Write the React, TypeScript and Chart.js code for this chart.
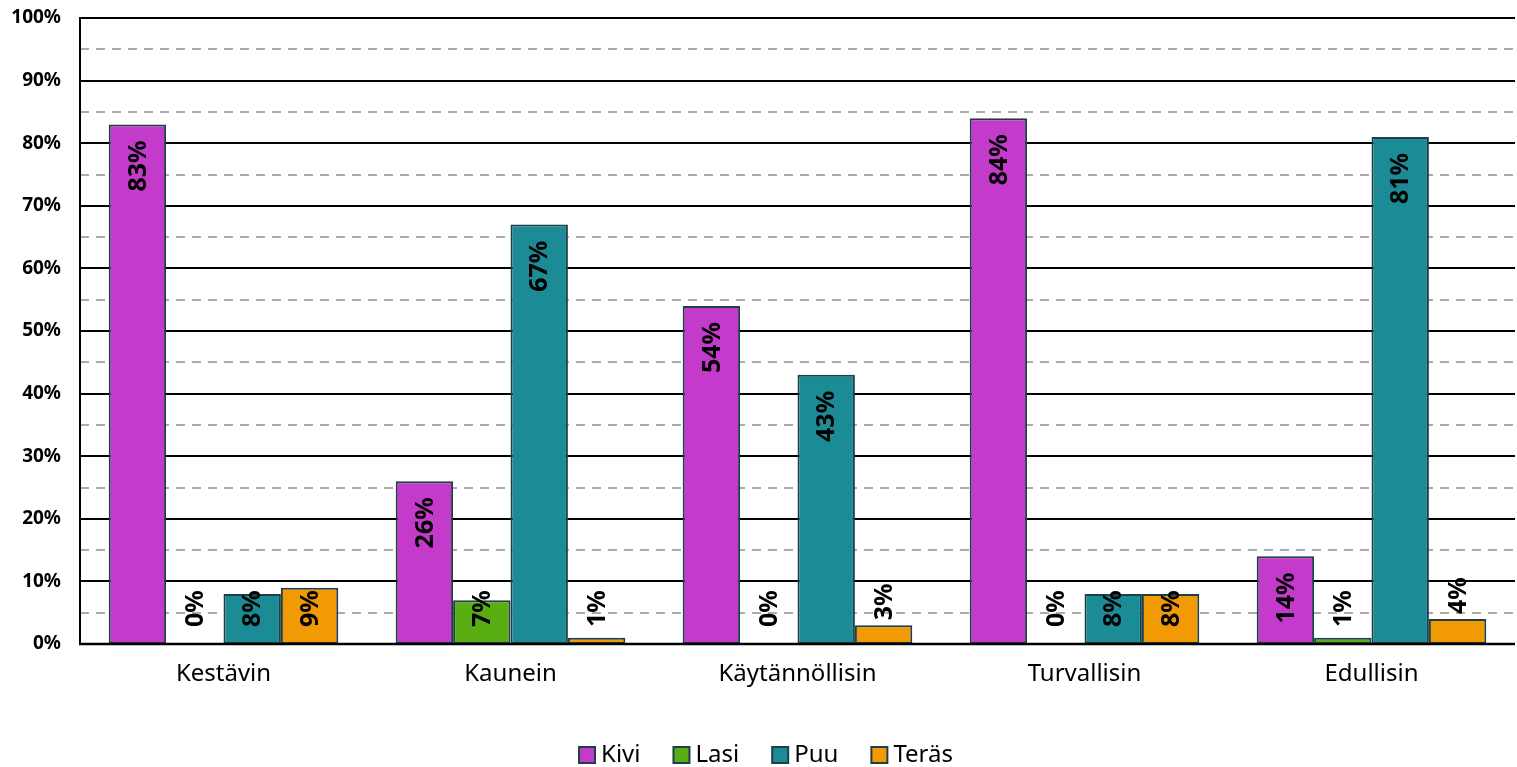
import React, { useEffect, useRef } from 'react';
import { Chart, registerables } from 'chart.js';

Chart.register(...registerables);

const categories = ['Kestävin', 'Kaunein', 'Käytännöllisin', 'Turvallisin', 'Edullisin'];
const seriesNames = ['Kivi', 'Lasi', 'Puu', 'Teräs'];
const kivi = [83, 26, 54, 84, 14];
const lasi = [0, 7, 0, 0, 1];
const puu = [8, 67, 43, 8, 81];
const teras = [9, 1, 3, 8, 4];
const seriesValues = [kivi, lasi, puu, teras];
const seriesColors = ['#C43BCC', '#58AE13', '#1B8C96', '#F29A03'];
const borderColor = '#1E3F47';
const yMin = 0;
const yMax = 100;
const yStep = 5;
const yLabelStep = 10;

const FONT = '"Noto Sans", "Open Sans", sans-serif';

const gridPlugin = {
  id: 'customGrid',
  beforeDatasetsDraw(chart: any) {
    const { ctx, chartArea } = chart;
    const y = chart.scales.y;
    ctx.save();
    for (let v = yMin + yStep; v <= yMax; v += yStep) {
      const py = Math.round(y.getPixelForValue(v));
      ctx.beginPath();
      if (v % yLabelStep === 0) {
        ctx.setLineDash([]);
        ctx.strokeStyle = '#000000';
        ctx.lineWidth = 1.8;
      } else {
        ctx.setLineDash([9, 7]);
        ctx.strokeStyle = '#ABABAB';
        ctx.lineWidth = 2;
      }
      ctx.moveTo(chartArea.left, py);
      ctx.lineTo(chartArea.right, py);
      ctx.stroke();
    }
    ctx.restore();
  },
  afterDatasetsDraw(chart: any) {
    const { ctx, chartArea } = chart;
    ctx.save();
    ctx.setLineDash([]);
    ctx.strokeStyle = '#000000';
    ctx.lineWidth = 2;
    ctx.beginPath();
    ctx.moveTo(chartArea.left, chartArea.top - 1);
    ctx.lineTo(chartArea.left, chartArea.bottom);
    ctx.stroke();
    ctx.lineWidth = 2.5;
    ctx.beginPath();
    ctx.moveTo(chartArea.left - 1, chartArea.bottom);
    ctx.lineTo(chartArea.right, chartArea.bottom);
    ctx.stroke();

    // data labels
    ctx.font = `bold 25px ${FONT}`;
    ctx.fillStyle = '#000000';
    ctx.textBaseline = 'middle';
    const PAD_TOP = 16;
    const BASE_GAP = 17;
    const OUT_GAP = 5;
    chart.data.datasets.forEach((ds: any, di: number) => {
      const meta = chart.getDatasetMeta(di);
      meta.data.forEach((el: any, i: number) => {
        const text = `${ds.data[i]}%`;
        const L = ctx.measureText(text).width;
        const x = el.x;
        const top = el.y;
        const base = el.base;
        const h = base - top;
        ctx.save();
        if (top + PAD_TOP + L <= base - BASE_GAP) {
          ctx.translate(x, top + PAD_TOP);
          ctx.rotate(-Math.PI / 2);
          ctx.textAlign = 'right';
        } else {
          let bottom;
          if (h >= L) bottom = base - BASE_GAP;
          else bottom = Math.min(base - BASE_GAP, top - OUT_GAP);
          ctx.translate(x, bottom);
          ctx.rotate(-Math.PI / 2);
          ctx.textAlign = 'left';
        }
        ctx.fillText(text, 0, 1);
        ctx.restore();
      });
    });
    ctx.restore();
  },
  afterDraw(chart: any) {
    const { ctx } = chart;
    ctx.save();
    ctx.font = `24px ${FONT}`;
    ctx.textBaseline = 'middle';
    ctx.textAlign = 'left';
    const box = 16;
    const gap = 6;
    const itemPad = 33;
    const widths = seriesNames.map((n) => ctx.measureText(n).width);
    const total = widths.reduce((a, w) => a + box + gap + w, 0) + itemPad * (seriesNames.length - 1);
    let x = 766 - total / 2;
    const cy = 755;
    seriesNames.forEach((n, i) => {
      ctx.fillStyle = seriesColors[i];
      ctx.fillRect(x, cy - box / 2, box, box);
      ctx.strokeStyle = borderColor;
      ctx.lineWidth = 2;
      ctx.strokeRect(x, cy - box / 2, box, box);
      ctx.fillStyle = '#000000';
      ctx.fillText(n, x + box + gap, cy);
      x += box + gap + widths[i] + itemPad;
    });
    ctx.restore();
  },
};

export default function App() {
  const canvasRef = useRef<HTMLCanvasElement | null>(null);

  useEffect(() => {
    document.body.style.margin = '0';
    const canvas = canvasRef.current;
    if (!canvas) return;
    const chart = new Chart(canvas, {
      type: 'bar',
      data: {
        labels: categories,
        datasets: seriesNames.map((name, i) => ({
          label: name,
          data: seriesValues[i],
          backgroundColor: seriesColors[i],
          borderColor: borderColor,
          borderWidth: (c: any) => (c.raw === 0 ? 0 : 2),
          borderSkipped: false,
          categoryPercentage: 0.8,
          barPercentage: 1.0,
        })),
      },
      options: {
        animation: false,
        responsive: false,
        devicePixelRatio: 1,
        events: [],
        layout: { padding: { top: 18, right: 2, left: 0, bottom: 0 } },
        plugins: {
          legend: { display: false },
          tooltip: { enabled: false },
        },
        scales: {
          x: {
            grid: { display: false, drawTicks: false },
            border: { display: false },
            ticks: {
              color: '#000000',
              font: { family: FONT, size: 24 },
              padding: 16,
            },
            afterFit(s: any) {
              s.height = 767 - 644;
              s.paddingLeft = 0;
              s.paddingRight = 0;
            },
          },
          y: {
            min: yMin,
            max: yMax,
            grid: { display: false, drawTicks: false },
            border: { display: false },
            ticks: {
              stepSize: yStep,
              autoSkip: false,
              color: '#000000',
              font: { family: FONT, size: 19, weight: 'bold' },
              padding: 19,
              callback: (v: any) => (Number(v) % yLabelStep === 0 ? `${v}%` : ''),
            },
            afterFit(s: any) {
              s.width = 80;
              s.paddingTop = 0;
              s.paddingBottom = 0;
            },
          },
        },
      },
      plugins: [gridPlugin],
    } as any);
    return () => chart.destroy();
  }, []);

  return (
    <div style={{ width: 1517, height: 767 }}>
      <canvas ref={canvasRef} width={1517} height={767} style={{ display: 'block' }} />
    </div>
  );
}
